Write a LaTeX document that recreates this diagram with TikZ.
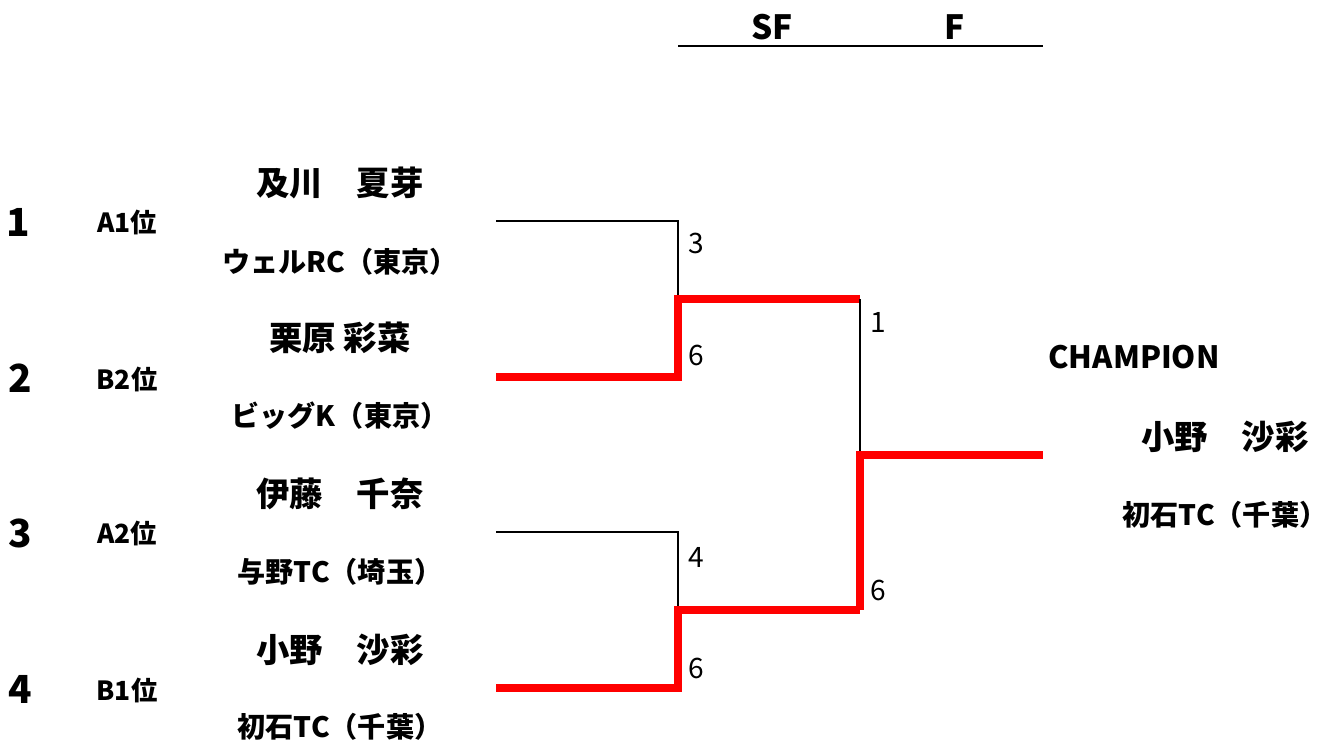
\documentclass[tikz,border=0pt]{standalone}
\usepackage{fontspec}
\setmainfont{Noto Sans CJK JP}
\usetikzlibrary{calc}

\begin{document}
\begin{tikzpicture}[x=0.02cm,y=-0.02cm,
		seed/.style={font=\fontsize{22}{22}\selectfont\bfseries},
		rank/.style={font=\fontsize{15}{15}\selectfont\bfseries},
		player/.style={font=\fontsize{19}{19}\selectfont\bfseries},
		club/.style={font=\fontsize{16}{16}\selectfont\bfseries},
		score/.style={font=\fontsize{16}{16}\selectfont, anchor=west},
		lost/.style={line width=1.2pt, black},
		won/.style={line width=4.6pt, red}]
				\useasboundingbox (0,0) rectangle (1338,747);
				
				% rounds
				\coordinate (hl) at (678,46);
				\coordinate (hr) at (1043,46);
				\draw[line width=1.7pt] (hl) -- (hr);
				\node[font=\fontsize{19}{19}\selectfont\bfseries] (sf) at (772,27) {SF};
				\node[font=\fontsize{19}{19}\selectfont\bfseries] (fin) at (955,27) {F};
				
				% draw
				\node[seed] (n1) at (18,222) {1};
				\node[seed] (n2) at (20,378) {2};
				\node[seed] (n3) at (20,533) {3};
				\node[seed] (n4) at (20,689) {4};
				\node[rank] (r1) at (127,222) {A1位};
				\node[rank] (r2) at (127,379) {B2位};
				\node[rank] (r3) at (127,533) {A2位};
				\node[rank] (r4) at (127,690) {B1位};
				
				\node[player] (p1) at (340,183) {及川　夏芽};
				\node[club] (c1) at (340,262) {ウェルRC（東京）};
				\node[player] (p2) at (340,338) {栗原 彩菜};
				\node[club] (c2) at (340,416) {ビッグK（東京）};
				\node[player] (p3) at (340,494) {伊藤　千奈};
				\node[club] (c3) at (340,572) {与野TC（埼玉）};
				\node[player] (p4) at (340,650) {小野　沙彩};
				\node[club] (c4) at (340,727) {初石TC（千葉）};
				
				% semi finals
				\coordinate (a1) at (496,221);
				\coordinate (a2) at (496,377);
				\coordinate (a3) at (496,532);
				\coordinate (a4) at (496,688);
				\coordinate (m1) at (678,299);
				\coordinate (m2) at (678,610);
				\draw[lost] (a1) -| (m1);
				\draw[lost] (a3) -| (m2);
				\draw[won] (a2) -| (m1) -- ++(182,0) coordinate (f1);
				\draw[won] (a4) -| (m2) -- ++(182,0) coordinate (f2);
				\node[score] (s1) at (682,243) {3};
				\node[score] (s2) at (682,355) {6};
				\node[score] (s3) at (682,557) {4};
				\node[score] (s4) at (682,668) {6};
				
				% final
				\coordinate (w) at (860,455);
				\coordinate (wend) at (1043,455);
				\draw[lost] (f1) -- (w);
				\draw[won] (f2) -- (w) -- (wend);
				\node[score] (s5) at (864,322) {1};
				\node[score] (s6) at (864,590) {6};
				
				\node[font=\fontsize{17.5}{17.5}\selectfont\bfseries] (champ) at (1134,357) {CHAMPION};
				\node[player] (wp) at (1225,437) {小野　沙彩};
				\node[club] (wc) at (1225,515) {初石TC（千葉）};
\end{tikzpicture}
\end{document}
